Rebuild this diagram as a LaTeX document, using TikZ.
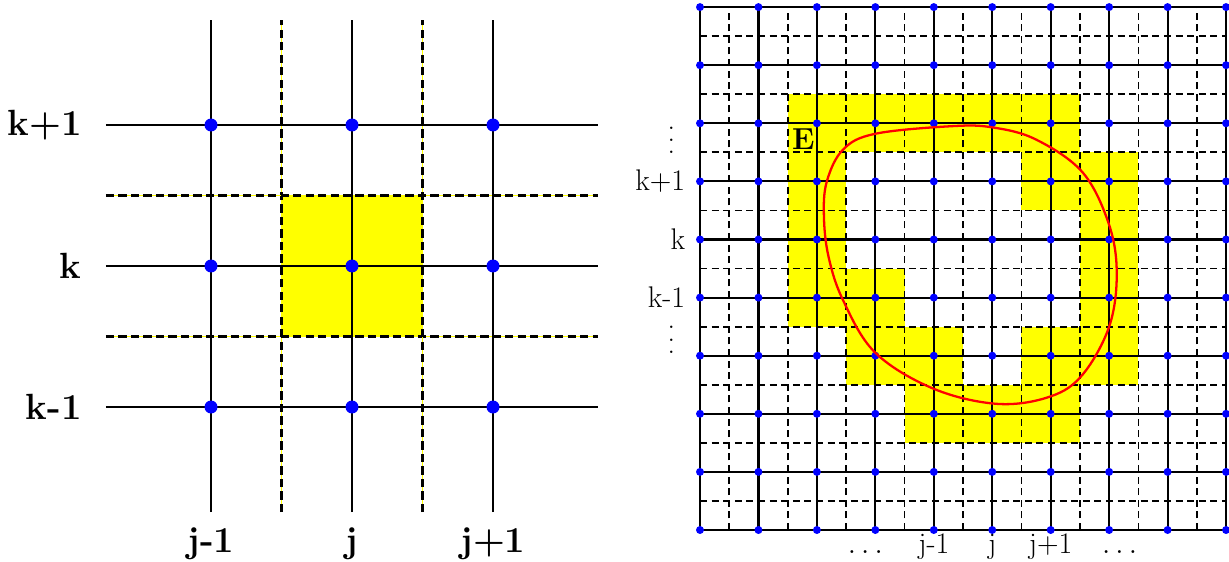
\documentclass[tikz,border=0pt]{standalone}
\usetikzlibrary{calc}
\definecolor{cellc}{RGB}{255,255,0}
\definecolor{nodec}{RGB}{0,0,255}
\definecolor{curvec}{RGB}{255,0,0}
\newcommand{\tallvdots}{\vbox{\baselineskip7pt\lineskiplimit0pt\hbox{.}\hbox{.}\hbox{.}}}
\tikzset{
  gridl/.style={black,line width=1.5pt},
  halfl/.style={black,line width=1.5pt,dash pattern=on 4.7pt off 2.4pt},
  halfy/.style={cellc,line width=0.5pt},
  pt/.style={circle,fill=nodec,inner sep=0pt,minimum size=0.26cm},
  bigidx/.style={font=\huge\bfseries,inner sep=0pt},
  fgrid/.style={black,line width=1.2pt},
  fhalf/.style={black,line width=1pt,dash pattern=on 4pt off 2.6pt},
  fpt/.style={circle,fill=nodec,inner sep=0pt,minimum size=0.16cm},
  idx/.style={font=\fontsize{17}{20}\selectfont,inner sep=0pt},
  cell/.style={fill=cellc},
  contour/.style={curvec,line width=1.3pt},
}

\begin{document}
\begin{tikzpicture}[x=1cm,y=1cm]
\useasboundingbox (0,0) rectangle (24.58,11.22);
% ================= Left: one cell =================
\begin{scope}[shift={(7.04,5.90)},x=2.82cm,y=2.82cm]
\fill[cellc] (-0.5,-0.5) rectangle (0.5,0.5);
% cell edges (dashed, on a thin yellow line)
\foreach \c in {-0.5,0.5}{
  \draw[halfy] (\c,-1.745) -- (\c,1.745);
  \draw[halfy] (-1.745,\c) -- (1.745,\c);
  \draw[halfl] (\c,-1.745) -- (\c,1.745);
  \draw[halfl] (-1.745,\c) -- (1.745,\c);
}
% mesh lines
\foreach \c in {-1,0,1}{
  \draw[gridl] (\c,-1.745) -- (\c,1.745);
  \draw[gridl] (-1.745,\c) -- (1.745,\c);
}
\foreach \i/\n in {-1/a,0/b,1/c}
  \foreach \j/\m in {-1/a,0/b,1/c}
    \node[pt] (L\n\m) at (\i,\j) {};
% indices
\node[bigidx,anchor=east] (kp) at (-1.915,1) {k+1};
\node[bigidx,anchor=east] (k) at (-1.915,0) {k};
\node[bigidx,anchor=east] (km) at (-1.915,-1) {k-1};
\node[bigidx,anchor=base] (jm) at (-1,-2.03) {j-1};
\node[bigidx,anchor=base] (j) at (0,-2.03) {j};
\node[bigidx,anchor=base] (jp) at (1,-2.03) {j+1};
\end{scope}

% ================= Right: region E on the mesh =================
\begin{scope}[shift={(14.0,0.62)},x=1.169cm,y=1.162cm]
% cells of E
\foreach \x/\y in {2/7,3/7,4/7,5/7,6/7, 2/6,6/6,7/6, 2/5,7/5, 2/4,3/4,7/4,
                   3/3,4/3,6/3,7/3, 4/2,5/2,6/2}
  \fill[cell] (\x-0.5,\y-0.5) rectangle ++(1,1);
% cell edges
\foreach \c in {0.5,1.5,...,8.5}{
  \draw[fhalf] (\c,0) -- (\c,9);
  \draw[fhalf] (0,\c) -- (9,\c);
}
% mesh lines
\foreach \c in {0,...,9}{
  \draw[fgrid] (\c,0) -- (\c,9);
  \draw[fgrid] (0,\c) -- (9,\c);
}
\foreach \x in {0,...,9}
  \foreach \y in {0,...,9}
    \node[fpt] (g\x-\y) at (\x,\y) {};
% boundary of the domain
\draw[contour] plot[smooth cycle,tension=0.6] coordinates {
  (4.3,6.95) (3.0,6.82) (2.45,6.55) (2.17,6.0) (2.12,5.4) (2.2,4.7)
  (2.45,3.95) (3.0,3.05) (4.0,2.43) (5.1,2.17) (6.0,2.3) (6.55,2.68)
  (7.0,3.5) (7.13,4.4) (7.0,5.25) (6.55,6.15) (5.75,6.72) (5.0,6.93)};
\node[font=\LARGE\bfseries,anchor=west,inner sep=0pt] (E) at (1.57,6.73) {E};
% indices
\node[idx] (vu) at (-0.49,6.71) {\tallvdots};
\node[idx,anchor=east] (rkp) at (-0.25,6) {k+1};
\node[idx,anchor=east] (rk) at (-0.25,5) {k};
\node[idx,anchor=east] (rkm) at (-0.25,4) {k-1};
\node[idx] (vd) at (-0.49,3.27) {\tallvdots};
\node[idx,anchor=base] (hl) at (2.83,-0.40) {$\ldots$};
\node[idx,anchor=base] (rjm) at (4,-0.40) {j-1};
\node[idx,anchor=base] (rj) at (5,-0.40) {j};
\node[idx,anchor=base] (rjp) at (6,-0.40) {j+1};
\node[idx,anchor=base] (hr) at (7.18,-0.40) {$\ldots$};
\end{scope}
\end{tikzpicture}
\end{document}
